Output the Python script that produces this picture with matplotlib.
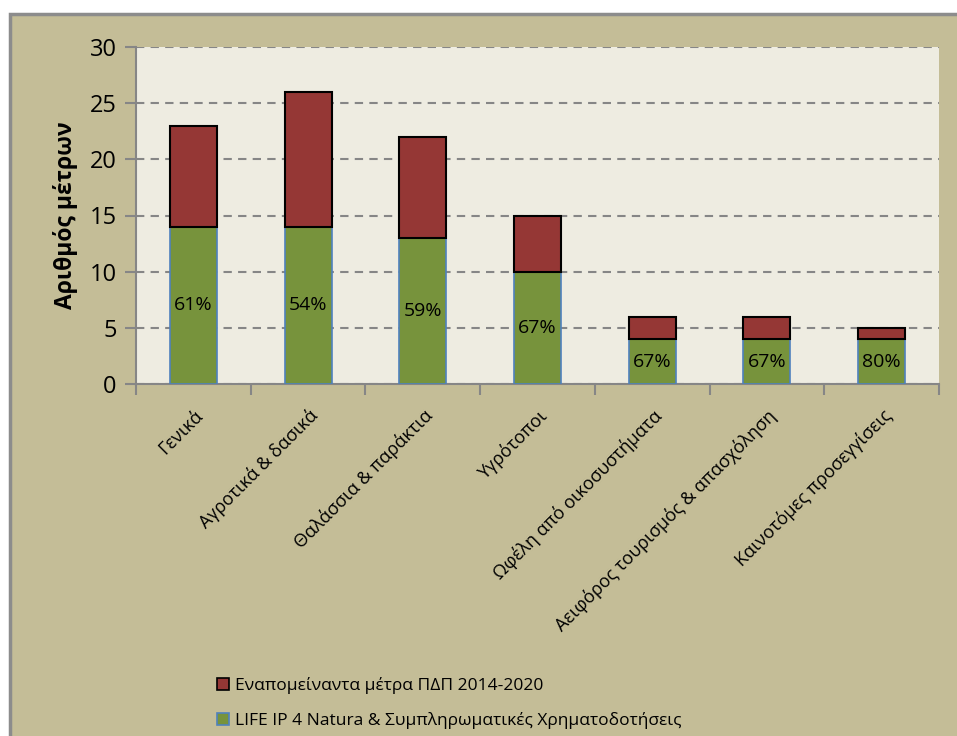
import numpy as np
import matplotlib.pyplot as plt
from matplotlib.patches import Rectangle, Patch

plt.rcParams['font.family'] = ['Open Sans', 'DejaVu Sans']

categories = ['Γενικά', 'Αγροτικά & δασικά', 'Θαλάσσια & παράκτια', 'Υγρότοποι',
              'Ωφέλη από οικοσυστήματα', 'Αειφόρος τουρισμός & απασχόληση',
              'Καινοτόμες προσεγγίσεις']
life_ip = [14, 14, 13, 10, 4, 4, 4]
remaining = [9, 12, 9, 5, 2, 2, 1]
pct_labels = ['61%', '54%', '59%', '67%', '67%', '67%', '80%']
series_names = ['Εναπομείναντα μέτρα ΠΔΠ 2014-2020',
                'LIFE IP 4 Natura & Συμπληρωματικές Χρηματοδοτήσεις']

bg = '#C4BD97'
plot_bg = '#EEECE1'
green = '#77933C'
red = '#953735'
axis_gray = '#868686'

fig = plt.figure(figsize=(9.57, 7.36), dpi=100)
fig.patch.set_facecolor('white')
fig.patches.append(Rectangle((10 / 957, -0.05), 1.2, 0.05 + 1 - 14 / 736,
                             transform=fig.transFigure, facecolor=bg,
                             edgecolor='#8C8C8C', linewidth=2.5, zorder=-10))

ax = fig.add_axes([136 / 957, 1 - 384 / 736, (939 - 136) / 957, (384 - 47) / 736])
ax.set_facecolor(plot_bg)

x = np.arange(len(categories))
w = 0.41
ax.bar(x, life_ip, w, color=green, edgecolor='#4F81BD', linewidth=1.2, zorder=3)
ax.bar(x, remaining, w, bottom=life_ip, color=red, edgecolor='black',
       linewidth=1.5, zorder=3)

for xi, v, lab in zip(x, life_ip, pct_labels):
    ax.text(xi, v / 2, lab, ha='center', va='center', fontsize=14, zorder=4)

ax.set_xlim(-0.5, len(categories) - 0.5)
ax.set_ylim(0, 30)
ax.set_yticks(range(0, 31, 5))
ax.tick_params(axis='y', labelsize=17, length=8, width=1.5, color=axis_gray, pad=6)
ax.yaxis.grid(True, linestyle=(0, (4, 3)), color=axis_gray, linewidth=1.5, zorder=1)
ax.set_axisbelow(True)

ax.set_xticks(x)
ax.set_xticklabels(categories, rotation=45, ha='right', va='top',
                   rotation_mode='anchor', fontsize=13)
ax.set_xticks(np.arange(-0.5, len(categories)), minor=True)
ax.tick_params(axis='x', which='major', length=0, pad=16)
ax.tick_params(axis='x', which='minor', length=8, width=1.5, color=axis_gray)

for s in ['top', 'right']:
    ax.spines[s].set_visible(False)
for s in ['left', 'bottom']:
    ax.spines[s].set_color(axis_gray)
    ax.spines[s].set_linewidth(1.5)

ax.set_ylabel('Αριθμός μέτρων', fontsize=16.5, fontweight='bold', labelpad=8)

handles = [Patch(facecolor=red, edgecolor='black', linewidth=1.2),
           Patch(facecolor=green, edgecolor='#4F81BD', linewidth=1.2)]
fig.legend(handles, series_names, loc='upper left',
           bbox_to_anchor=(210 / 957, 1 - 670 / 736), frameon=False,
           fontsize=12.5, handlelength=0.7, handleheight=0.7, handletextpad=0.35,
           labelspacing=1.05, borderaxespad=0)

fig.savefig('out.png', dpi=100, facecolor=fig.get_facecolor())
